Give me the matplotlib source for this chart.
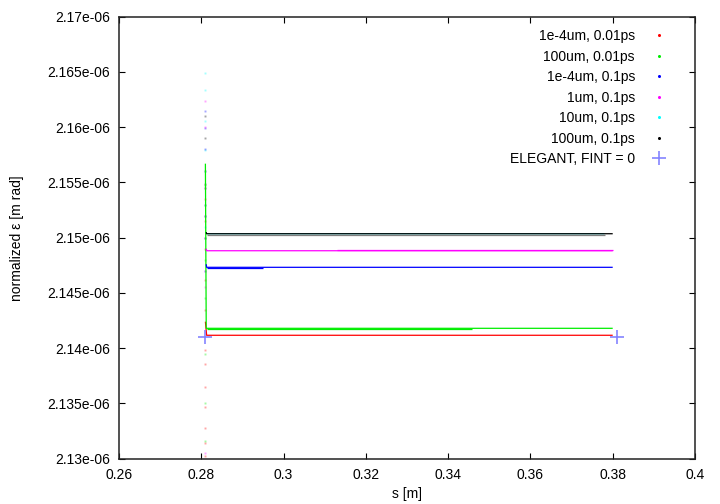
import matplotlib
matplotlib.use("Agg")
import matplotlib.pyplot as plt
from matplotlib.ticker import FuncFormatter, FixedLocator

plt.rcParams['font.family'] = ['Liberation Sans', 'DejaVu Sans']
plt.rcParams['font.size'] = 10

# ---- data (emittance in units of 1e-6 m rad) ----
labels = ["1e-4um, 0.01ps", "100um, 0.01ps", "1e-4um, 0.1ps",
          "1um, 0.1ps", "10um, 0.1ps", "100um, 0.1ps"]
colors = ["#ff0000", "#00ee00", "#0000ff", "#ff00ff", "#00ffff", "#000000"]

# main traces (entry transient + plateau)
red_s = [0.2810, 0.2813, 0.3800]
red_eps = [2.14240, 2.14117, 2.14117]
green_s = [0.2810, 0.2812, 0.3800]
green_eps = [2.15670, 2.14180, 2.14180]
blue_s = [0.2812, 0.2813, 0.3800]
blue_eps = [2.14760, 2.14732, 2.14732]
magenta_s = [0.2812, 0.2813, 0.3800]
magenta_eps = [2.14900, 2.14882, 2.14882]
cyan_s = [0.2812, 0.2813, 0.3780]
cyan_eps = [2.15050, 2.15036, 2.15036]
black_s = [0.2812, 0.2813, 0.3800]
black_eps = [2.15050, 2.15036, 2.15036]

# slightly scattered bands (visible as thicker parts of the traces)
green_band_s = [0.2813, 0.3457]
green_band_eps = [2.14172, 2.14172]
blue_band_s = [0.2813, 0.2951]
blue_band_eps = [2.14724, 2.14724]
magenta_band_s = [0.3129, 0.3800]
magenta_band_eps = [2.14891, 2.14891]
black_band_s = [0.2813, 0.3781]
black_band_eps = [2.15028, 2.15028]

# scattered points at the magnet entrance
spike_s = 0.2809
red_spike = [2.1302, 2.1314, 2.1328, 2.1347, 2.1365, 2.1386, 2.1398,
             2.1435, 2.1462, 2.1490, 2.1515, 2.1535, 2.1545]
green_spike = [2.1316, 2.1350, 2.1395, 2.1445, 2.1480, 2.1520, 2.1548, 2.1560]
blue_spike = [2.1599, 2.1615, 2.1580, 2.1545, 2.1500, 2.1470, 2.1520]
magenta_spike = [2.1600, 2.1624, 2.1305, 2.1470, 2.1520, 2.1455, 2.1560]
cyan_spike = [2.1649, 2.1634, 2.1606, 2.1579, 2.1560, 2.1530, 2.1510]
black_spike = [2.1590, 2.1549, 2.1610, 2.1530, 2.1500]

# ELEGANT reference
elegant_s = [0.2809, 0.3810]
elegant_eps = [2.14099, 2.14099]

x_ticks = [0.26, 0.28, 0.30, 0.32, 0.34, 0.36, 0.38, 0.40]
y_ticks = [2.130, 2.135, 2.140, 2.145, 2.150, 2.155, 2.160, 2.165, 2.170]

# ---- figure ----
fig = plt.figure(figsize=(7.2, 5.04), dpi=100)
ax = fig.add_axes([119/720, 1 - 458.7/504, 576/720, 442/504])

traces = [(red_s, red_eps), (green_s, green_eps), (blue_s, blue_eps),
          (magenta_s, magenta_eps), (cyan_s, cyan_eps), (black_s, black_eps)]
spikes = [red_spike, green_spike, blue_spike, magenta_spike, cyan_spike, black_spike]
bands = [None, (green_band_s, green_band_eps), (blue_band_s, blue_band_eps),
         (magenta_band_s, magenta_band_eps), None, (black_band_s, black_band_eps)]

order = [4, 0, 1, 2, 3, 5]
for i in order:
    c = colors[i]
    ax.plot([spike_s] * len(spikes[i]), spikes[i], linestyle='none', marker='s',
            ms=1.4, mew=0, color=c, alpha=0.35)
for i in order:
    c = colors[i]
    s, e = traces[i]
    lw = 0.7 if i == 4 else 0.9
    ax.plot(s, e, color=c, lw=lw, solid_capstyle='butt')
    if bands[i] is not None:
        bs, be = bands[i]
        ax.plot(bs, be, color=c, lw=0.9, alpha=0.5 if i == 5 else 1.0,
                solid_capstyle='butt')

ax.plot(elegant_s, elegant_eps, linestyle='none', marker='+', ms=10, mew=1.2,
        color='#7777ff', alpha=0.9)

# legend proxies
handles = []
for i in range(6):
    h, = ax.plot([], [], linestyle='none', marker='o', ms=2.2, mew=0,
                 color=colors[i], label=labels[i])
    handles.append(h)
h, = ax.plot([], [], linestyle='none', marker='+', ms=10, mew=1.2,
             color='#7777ff', alpha=0.9, label="ELEGANT, FINT = 0")
handles.append(h)
ax.legend(handles=handles, loc='upper right', frameon=False, markerfirst=False,
          bbox_to_anchor=(0.962, 0.972), borderaxespad=0, borderpad=0,
          handlelength=2.0, handletextpad=0.75, labelspacing=0.47, fontsize=10)

ax.set_xlim(0.26, 0.40)
ax.set_ylim(2.13, 2.17)
ax.xaxis.set_major_locator(FixedLocator(x_ticks))
ax.yaxis.set_major_locator(FixedLocator(y_ticks))
ax.xaxis.set_major_formatter(FuncFormatter(lambda v, p: f"{v:g}"))
ax.yaxis.set_major_formatter(FuncFormatter(lambda v, p: f"{v*1e-6:g}"))
ax.tick_params(direction='in', length=4.3, width=0.8, top=True, right=True,
               labelsize=10, pad=6.5, colors='#000000')
for sp in ax.spines.values():
    sp.set_linewidth(1.1)
    sp.set_color('#222222')

ax.set_xlabel("s [m]", fontsize=10, labelpad=4)
ax.set_ylabel("normalized ε [m rad]", fontsize=10, labelpad=17)

fig.savefig("out.png", dpi=100)
